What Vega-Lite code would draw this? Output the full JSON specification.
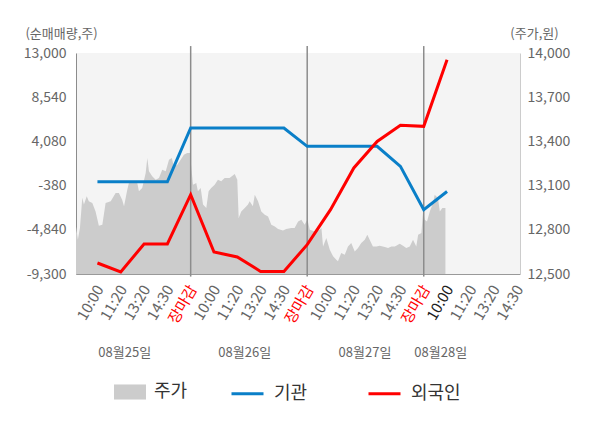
{
  "$schema": "https://vega.github.io/schema/vega-lite/v6.json",
  "autosize": {"type": "none"},
  "width": 444,
  "height": 221,
  "padding": {"left": 76, "top": 53, "right": 80, "bottom": 154},
  "background": "white",
  "config": {
    "view": {"fill": "#f4f4f4", "stroke": null},
    "font": "Noto Sans CJK KR",
    "axisX": {"labelOverlap": false, "labelFontSize": 15, "labelFont": "Noto Sans CJK KR"}
  },
  "datasets": {
    "price": [
      {"t": -0.92, "price": 12823}, {"t": -0.84, "price": 12733}, {"t": -0.75, "price": 12814},
      {"t": -0.65, "price": 13018}, {"t": -0.58, "price": 12971}, {"t": -0.46, "price": 13027},
      {"t": -0.37, "price": 12993}, {"t": -0.22, "price": 12982}, {"t": -0.08, "price": 12925},
      {"t": 0.06, "price": 12828}, {"t": 0.21, "price": 12835}, {"t": 0.35, "price": 12982},
      {"t": 0.57, "price": 12993}, {"t": 0.78, "price": 13050}, {"t": 0.92, "price": 13050},
      {"t": 1.06, "price": 13004}, {"t": 1.14, "price": 12959}, {"t": 1.28, "price": 13072},
      {"t": 1.35, "price": 13118}, {"t": 1.49, "price": 13118}, {"t": 1.71, "price": 13118},
      {"t": 1.78, "price": 13061}, {"t": 1.92, "price": 13084}, {"t": 2.07, "price": 13186},
      {"t": 2.14, "price": 13288}, {"t": 2.21, "price": 13197}, {"t": 2.35, "price": 13163},
      {"t": 2.5, "price": 13140}, {"t": 2.64, "price": 13152}, {"t": 2.78, "price": 13208},
      {"t": 2.93, "price": 13197}, {"t": 3.07, "price": 13276}, {"t": 3.19, "price": 13288},
      {"t": 3.28, "price": 13231}, {"t": 3.43, "price": 13242}, {"t": 3.57, "price": 13276},
      {"t": 3.71, "price": 13310}, {"t": 3.85, "price": 13322}, {"t": 3.97, "price": 13322},
      {"t": 4.03, "price": 13220}, {"t": 4.1, "price": 13106}, {"t": 4.24, "price": 13118},
      {"t": 4.31, "price": 13061}, {"t": 4.43, "price": 13084}, {"t": 4.53, "price": 12971},
      {"t": 4.67, "price": 12948}, {"t": 4.77, "price": 13061}, {"t": 4.88, "price": 13084},
      {"t": 5.03, "price": 13106}, {"t": 5.17, "price": 13140}, {"t": 5.31, "price": 13129},
      {"t": 5.46, "price": 13152}, {"t": 5.67, "price": 13152}, {"t": 5.89, "price": 13179},
      {"t": 6.0, "price": 13140}, {"t": 6.06, "price": 12880}, {"t": 6.17, "price": 12925},
      {"t": 6.32, "price": 12948}, {"t": 6.46, "price": 12971}, {"t": 6.53, "price": 12993},
      {"t": 6.67, "price": 12959}, {"t": 6.75, "price": 13038}, {"t": 6.89, "price": 12993},
      {"t": 7.03, "price": 12925}, {"t": 7.18, "price": 12903}, {"t": 7.32, "price": 12891},
      {"t": 7.46, "price": 12835}, {"t": 7.61, "price": 12823}, {"t": 7.75, "price": 12806},
      {"t": 7.96, "price": 12796}, {"t": 8.1, "price": 12806}, {"t": 8.32, "price": 12812},
      {"t": 8.46, "price": 12812}, {"t": 8.61, "price": 12857}, {"t": 8.75, "price": 12869},
      {"t": 8.89, "price": 12835}, {"t": 8.96, "price": 12857}, {"t": 9.01, "price": 12869},
      {"t": 9.11, "price": 12801}, {"t": 9.32, "price": 12789}, {"t": 9.54, "price": 12801},
      {"t": 9.61, "price": 12812}, {"t": 9.68, "price": 12687}, {"t": 9.82, "price": 12744},
      {"t": 9.97, "price": 12665}, {"t": 10.11, "price": 12620}, {"t": 10.25, "price": 12597},
      {"t": 10.32, "price": 12586}, {"t": 10.46, "price": 12643}, {"t": 10.61, "price": 12631},
      {"t": 10.75, "price": 12687}, {"t": 10.89, "price": 12710}, {"t": 11.04, "price": 12653},
      {"t": 11.18, "price": 12677}, {"t": 11.32, "price": 12710}, {"t": 11.47, "price": 12733},
      {"t": 11.58, "price": 12767}, {"t": 11.68, "price": 12733}, {"t": 11.82, "price": 12687},
      {"t": 11.97, "price": 12687}, {"t": 12.11, "price": 12692}, {"t": 12.33, "price": 12683},
      {"t": 12.47, "price": 12677}, {"t": 12.61, "price": 12687}, {"t": 12.76, "price": 12687},
      {"t": 12.97, "price": 12706}, {"t": 13.11, "price": 12692}, {"t": 13.25, "price": 12677},
      {"t": 13.4, "price": 12687}, {"t": 13.54, "price": 12733}, {"t": 13.68, "price": 12687},
      {"t": 13.76, "price": 12767}, {"t": 13.9, "price": 12778}, {"t": 13.97, "price": 12925},
      {"t": 14.04, "price": 12869}, {"t": 14.14, "price": 12857}, {"t": 14.26, "price": 12925},
      {"t": 14.4, "price": 12982}, {"t": 14.47, "price": 13038}, {"t": 14.61, "price": 13016},
      {"t": 14.69, "price": 12925}, {"t": 14.8, "price": 12948}, {"t": 14.93, "price": 12948}
    ],
    "flows": [
      {"t": 0, "series": "기관", "value": 0}, {"t": 1, "series": "기관", "value": 0},
      {"t": 2, "series": "기관", "value": 0}, {"t": 3, "series": "기관", "value": 0},
      {"t": 4, "series": "기관", "value": 5430}, {"t": 5, "series": "기관", "value": 5430},
      {"t": 6, "series": "기관", "value": 5430}, {"t": 7, "series": "기관", "value": 5430},
      {"t": 8, "series": "기관", "value": 5430}, {"t": 9, "series": "기관", "value": 3580},
      {"t": 10, "series": "기관", "value": 3580}, {"t": 11, "series": "기관", "value": 3580},
      {"t": 12, "series": "기관", "value": 3580}, {"t": 13, "series": "기관", "value": 1560},
      {"t": 14, "series": "기관", "value": -2810}, {"t": 15, "series": "기관", "value": -970},
      {"t": 0, "series": "외국인", "value": -8190}, {"t": 1, "series": "외국인", "value": -9100},
      {"t": 2, "series": "외국인", "value": -6270}, {"t": 3, "series": "외국인", "value": -6270},
      {"t": 4, "series": "외국인", "value": -1300}, {"t": 5, "series": "외국인", "value": -7080},
      {"t": 6, "series": "외국인", "value": -7580}, {"t": 7, "series": "외국인", "value": -9040},
      {"t": 8, "series": "외국인", "value": -9040}, {"t": 9, "series": "외국인", "value": -6340},
      {"t": 10, "series": "외국인", "value": -2810}, {"t": 11, "series": "외국인", "value": 1400},
      {"t": 12, "series": "외국인", "value": 4080}, {"t": 13, "series": "외국인", "value": 5700},
      {"t": 14, "series": "외국인", "value": 5600}, {"t": 15, "series": "외국인", "value": 12320}
    ],
    "gridlines": [
      {"v": -4840}, {"v": -380}, {"v": 4080}, {"v": 8540}
    ],
    "closes": [{"t": 4}, {"t": 9}, {"t": 14}],
    "days": [
      {"t": 1.17, "day": "08월25일"},
      {"t": 6.32, "day": "08월26일"},
      {"t": 11.48, "day": "08월27일"},
      {"t": 14.73, "day": "08월28일"}
    ]
  },
  "encoding": {
    "x": {
      "field": "t",
      "type": "quantitative",
      "scale": {"domain": [-0.92, 18.13], "nice": false, "zero": false},
      "axis": {
        "values": [0, 1, 2, 3, 4, 5, 6, 7, 8, 9, 10, 11, 12, 13, 14, 15, 16, 17, 18],
        "labelExpr": "['10:00','11:20','13:20','14:30','장마감'][datum.value % 5]",
        "labelAngle": -60,
        "labelAlign": "right",
        "labelBaseline": "middle",
        "labelPadding": 12,
        "labelOffset": 2,
        "labelFont": "Noto Sans CJK KR",
        "labelFontSize": 15,
        "labelColor": {
          "condition": [
            {"test": "datum.value % 5 == 4", "value": "#ff0000"},
            {"test": "datum.value == 15", "value": "#222222"}
          ],
          "value": "#666666"
        },
        "labelOverlap": false,
        "labelFlush": false,
        "labelBound": false,
        "ticks": false,
        "grid": false,
        "domainColor": "#999999",
        "title": null
      }
    }
  },
  "layer": [
    {
      "data": {"name": "price"},
      "mark": {"type": "area", "opacity": 1},
      "encoding": {
        "y": {
          "field": "price",
          "type": "quantitative",
          "scale": {"domain": [12500, 14000], "nice": false, "zero": false},
          "axis": {
            "orient": "right",
            "values": [12500, 12800, 13100, 13400, 13700, 14000],
            "labelExpr": "format(datum.value, ',')",
            "grid": false,
            "ticks": false,
            "domainColor": "#cccccc",
            "labelPadding": 7,
            "labelFont": "Noto Sans CJK KR",
            "labelFontSize": 14,
            "labelColor": "#666666",
            "title": "(주가,원)",
            "titleFont": "Noto Sans CJK KR",
            "titleAngle": 0,
            "titleX": 14,
            "titleY": -20,
            "titleAlign": "center",
            "titleBaseline": "middle",
            "titleFontSize": 13,
            "titleFontWeight": "normal",
            "titleColor": "#666666"
          }
        },
        "y2": {"datum": 12500},
        "fill": {
          "datum": "주가",
          "scale": {"domain": ["주가"], "range": ["#cccccc"]},
          "legend": {
            "orient": "none",
            "legendX": 38,
            "legendY": 323,
            "title": null,
            "padding": 0,
            "symbolType": "M-1,-0.47H1V0.47H-1Z",
            "symbolSize": 1024,
            "symbolStrokeWidth": 0,
            "symbolOpacity": 1,
            "labelFont": "Noto Sans CJK KR",
            "labelFontSize": 18,
            "labelColor": "#333333",
            "labelOffset": 8
          }
        }
      }
    },
    {
      "data": {"name": "gridlines"},
      "mark": {"type": "rule", "color": "#dcdcdc", "strokeWidth": 1},
      "encoding": {
        "x": {"datum": -0.92},
        "x2": {"datum": 18.13},
        "y": {"field": "v", "type": "quantitative", "scale": {"domain": [-9300, 13000], "nice": false, "zero": false}, "axis": null}
      }
    },
    {
      "data": {"name": "closes"},
      "mark": {"type": "rule", "color": "#8c8c8c", "strokeWidth": 1.5},
      "encoding": {
        "y": {"datum": 13700, "type": "quantitative", "scale": {"domain": [-9300, 13000], "nice": false, "zero": false}, "axis": null},
        "y2": {"datum": -9560}
      }
    },
    {
      "data": {"values": [{"v": 0}]},
      "mark": {"type": "rule", "color": "#8c8c8c", "strokeWidth": 1.5},
      "encoding": {
        "x": {"datum": -0.92},
        "x2": {"datum": 18.13},
        "y": {"field": "v", "type": "quantitative", "scale": {"domain": [-9300, 13000], "nice": false, "zero": false}, "axis": null}
      }
    },
    {
      "data": {"name": "flows"},
      "mark": {"type": "line", "strokeWidth": 3},
      "encoding": {
        "y": {
          "field": "value",
          "type": "quantitative",
          "scale": {"domain": [-9300, 13000], "nice": false, "zero": false},
          "axis": {
            "orient": "left",
            "values": [-9300, -4840, -380, 4080, 8540, 13000],
            "labelExpr": "replace(format(datum.value, ','), '−', '-')",
            "grid": false,
            "ticks": false,
            "domainColor": "#8c8c8c",
            "labelPadding": 10,
            "labelFont": "Noto Sans CJK KR",
            "labelFontSize": 14,
            "labelColor": "#666666",
            "title": "(순매매량,주)",
            "titleFont": "Noto Sans CJK KR",
            "titleAngle": 0,
            "titleX": -15,
            "titleY": -20,
            "titleAlign": "center",
            "titleBaseline": "middle",
            "titleFontSize": 13,
            "titleFontWeight": "normal",
            "titleColor": "#666666"
          }
        },
        "stroke": {
          "field": "series",
          "type": "nominal",
          "scale": {"domain": ["기관", "외국인"], "range": ["#0a7fc8", "#ff0000"]},
          "legend": {
            "orient": "none",
            "legendX": 154,
            "legendY": 323,
            "direction": "horizontal",
            "title": null,
            "padding": 0,
            "symbolType": "stroke",
            "symbolSize": 1024,
            "symbolStrokeWidth": 3,
            "labelFont": "Noto Sans CJK KR",
            "labelFontSize": 18,
            "labelColor": "#333333",
            "labelOffset": 9,
            "columnPadding": 54
          }
        }
      }
    },
    {
      "data": {"name": "days"},
      "mark": {"type": "text", "fontSize": 13, "color": "#666666", "align": "center", "baseline": "middle"},
      "encoding": {
        "y": {"datum": -17240, "type": "quantitative", "scale": {"domain": [-9300, 13000], "nice": false, "zero": false}, "axis": null},
        "text": {"field": "day"}
      }
    }
  ],
  "resolve": {"scale": {"y": "independent", "fill": "independent", "stroke": "independent"}}
}
